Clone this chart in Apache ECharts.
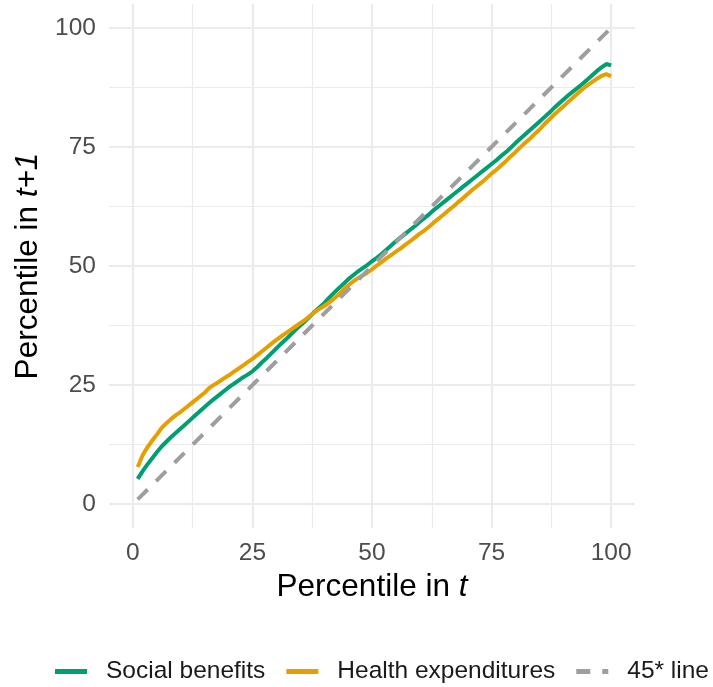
<!DOCTYPE html>
<html>
<head>
<meta charset="utf-8">
<script src="https://cdn.jsdelivr.net/npm/echarts@6/dist/echarts.min.js"></script>
<style>
  html, body { margin: 0; padding: 0; background: #fff; }
  #chart { width: 713px; height: 687px; }
</style>
</head>
<body>
<div id="chart"></div>
<script>
// percentile in t
const percentiles = [
  1, 2, 3, 4, 5, 6, 7, 8, 9, 10, 11, 12, 13, 14, 15, 16, 17, 18, 19, 20,
  21, 22, 23, 24, 25, 26, 27, 28, 29, 30, 31, 32, 33, 34, 35, 36, 37, 38, 39, 40,
  41, 42, 43, 44, 45, 46, 47, 48, 49, 50, 51, 52, 53, 54, 55, 56, 57, 58, 59, 60,
  61, 62, 63, 64, 65, 66, 67, 68, 69, 70, 71, 72, 73, 74, 75, 76, 77, 78, 79, 80,
  81, 82, 83, 84, 85, 86, 87, 88, 89, 90, 91, 92, 93, 94, 95, 96, 97, 98, 99, 100
]
// percentile in t+1
const socialBenefits = [
  5.3, 6.9, 8.3, 9.6, 10.9, 12.1, 13.1, 14.1, 15.0, 15.9, 16.8, 17.7, 18.6, 19.5, 20.4, 21.3, 22.1, 22.9, 23.7, 24.5,
  25.2, 25.9, 26.6, 27.2, 27.9, 28.8, 29.8, 30.7, 31.7, 32.7, 33.7, 34.6, 35.6, 36.6, 37.5, 38.4, 39.4, 40.4, 41.3, 42.2,
  43.3, 44.3, 45.3, 46.2, 47.2, 48.0, 48.8, 49.5, 50.2, 51.0, 51.7, 52.5, 53.4, 54.3, 55.2, 56.0, 56.8, 57.6, 58.4, 59.3,
  60.1, 60.9, 61.8, 62.6, 63.4, 64.2, 65.0, 65.8, 66.6, 67.4, 68.2, 69.0, 69.8, 70.6, 71.4, 72.2, 73.1, 73.9, 74.8, 75.8,
  76.7, 77.6, 78.5, 79.4, 80.3, 81.2, 82.1, 83.1, 84.0, 84.9, 85.8, 86.6, 87.4, 88.2, 89.1, 90.0, 90.9, 91.7, 92.4, 92.1
]
const healthExpenditures = [
  7.8, 10.2, 11.9, 13.3, 14.6, 16.0, 17.0, 17.9, 18.7, 19.4, 20.2, 21.0, 21.8, 22.6, 23.4, 24.4, 25.1, 25.7, 26.4, 27.0,
  27.7, 28.4, 29.1, 29.8, 30.5, 31.3, 32.1, 32.9, 33.7, 34.5, 35.2, 35.9, 36.6, 37.3, 38.0, 38.7, 39.5, 40.3, 41.0, 41.6,
  42.3, 43.1, 44.0, 45.0, 45.9, 46.7, 47.4, 48.0, 48.6, 49.3, 50.1, 50.8, 51.6, 52.3, 53.0, 53.7, 54.5, 55.2, 56.0, 56.8,
  57.5, 58.3, 59.2, 60.0, 60.8, 61.7, 62.5, 63.4, 64.2, 65.1, 66.0, 66.8, 67.6, 68.5, 69.4, 70.2, 71.1, 72.0, 73.0, 73.9,
  74.9, 75.8, 76.7, 77.7, 78.6, 79.7, 80.7, 81.7, 82.6, 83.5, 84.4, 85.3, 86.2, 87.1, 87.9, 88.6, 89.3, 89.9, 90.3, 89.8
]
const diagonal = [[1, 1], [100, 100]]

const majorTicks = [0, 25, 50, 75, 100]
const minorTicks = [12.5, 37.5, 62.5, 87.5]

const font = 'Liberation Sans, Arial, sans-serif'
const gridColor = '#EBEBEB'

const chart = echarts.init(document.getElementById('chart'))

// main axes: labels + major grid lines
function mainAxis(name, gap) {
  return {
    type: 'value',
    min: -5,
    max: 105,
    axisLine: { show: false },
    axisTick: { show: false, customValues: majorTicks },
    axisLabel: {
      customValues: majorTicks,
      color: '#4D4D4D',
      fontSize: 24.5,
      fontFamily: font,
      margin: 13
    },
    splitLine: { show: true, lineStyle: { color: gridColor, width: 2.2 } },
    name: name,
    nameLocation: 'middle',
    nameGap: gap,
    nameTextStyle: {
      rich: {
        n: { fontSize: 31.5, fontFamily: font, color: '#000' },
        i: { fontSize: 31.5, fontFamily: font, color: '#000', fontStyle: 'italic' }
      }
    }
  }
}

// hidden axes only for the minor grid lines
function minorAxis() {
  return {
    type: 'value',
    min: -5,
    max: 105,
    z: 0,
    axisLine: { show: false },
    axisTick: { show: false, customValues: minorTicks },
    axisLabel: { show: false },
    splitLine: { show: true, lineStyle: { color: gridColor, width: 1.2 } }
  }
}

chart.setOption({
  animation: false,
  grid: { left: 109, right: 78, top: 4, bottom: 159, containLabel: false },
  xAxis: [mainAxis('{n|Percentile in }{i|t}', 43), minorAxis()],
  yAxis: [mainAxis('{n|Percentile in }{i|t+1}', 62), minorAxis()],
  legend: {
    left: 55,
    top: 659,
    padding: 0,
    itemWidth: 32,
    itemHeight: 5,
    itemGap: 21,
    textStyle: { fontSize: 24.5, fontFamily: font, color: '#1A1A1A', padding: [0, 0, 0, 14] },
    data: [
      { name: 'Social benefits', icon: 'rect' },
      { name: 'Health expenditures', icon: 'rect' },
      { name: '45* line', icon: 'path://M0,0H14V5H0Z M26,0H32V5H26Z' }
    ]
  },
  series: [
    {
      name: 'Social benefits',
      type: 'line',
      data: percentiles.map((p, i) => [p, socialBenefits[i]]),
      symbol: 'none',
      z: 3,
      lineStyle: { color: '#009E73', width: 4 },
      itemStyle: { color: '#009E73' }
    },
    {
      name: 'Health expenditures',
      type: 'line',
      data: percentiles.map((p, i) => [p, healthExpenditures[i]]),
      symbol: 'none',
      z: 3,
      lineStyle: { color: '#E69F00', width: 4 },
      itemStyle: { color: '#E69F00' }
    },
    {
      name: '45* line',
      type: 'line',
      data: diagonal,
      symbol: 'none',
      z: 4,
      lineStyle: { color: '#9E9E9E', width: 4, type: [14, 12] },
      itemStyle: { color: '#9E9E9E' }
    }
  ]
})
</script>
</body>
</html>
